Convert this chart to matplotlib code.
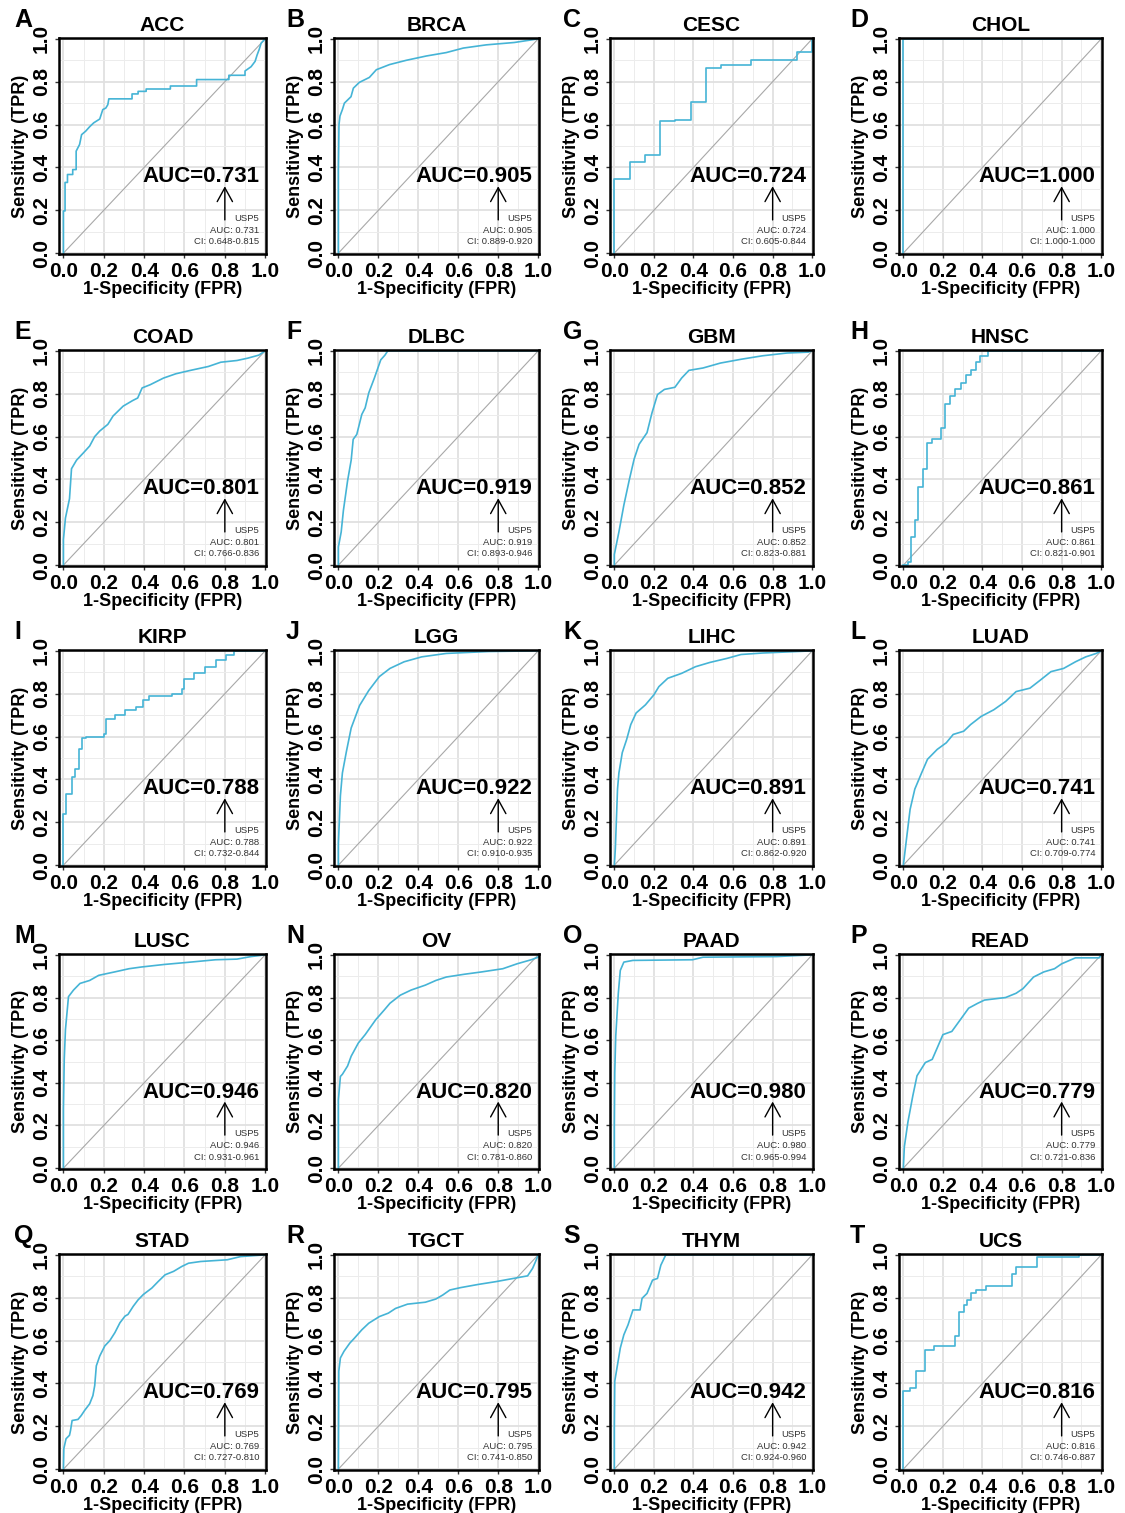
import numpy as np
import matplotlib
matplotlib.use('Agg')
import matplotlib.pyplot as plt
from matplotlib.ticker import MultipleLocator

plt.rcParams['font.family'] = ['Liberation Sans', 'DejaVu Sans']
plt.rcParams['font.weight'] = 'bold'

# ---------------- data ----------------
letters = list("ABCDEFGHIJKLMNOPQRST")
cancers = ['ACC', 'BRCA', 'CESC', 'CHOL', 'COAD', 'DLBC', 'GBM', 'HNSC',
           'KIRP', 'LGG', 'LIHC', 'LUAD', 'LUSC', 'OV', 'PAAD', 'READ',
           'STAD', 'TGCT', 'THYM', 'UCS']
gene = 'USP5'
auc = [0.731, 0.905, 0.724, 1.000, 0.801, 0.919, 0.852, 0.861, 0.788, 0.922,
       0.891, 0.741, 0.946, 0.820, 0.980, 0.779, 0.769, 0.795, 0.942, 0.816]
ci_low = [0.648, 0.889, 0.605, 1.000, 0.766, 0.893, 0.823, 0.821, 0.732, 0.910,
          0.862, 0.709, 0.931, 0.781, 0.965, 0.721, 0.727, 0.741, 0.924, 0.746]
ci_high = [0.815, 0.920, 0.844, 1.000, 0.836, 0.946, 0.881, 0.901, 0.844, 0.935,
           0.920, 0.774, 0.961, 0.860, 0.994, 0.836, 0.810, 0.850, 0.960, 0.887]

ACC_fpr = [0, 0, 0.008, 0.008, 0.02, 0.02, 0.046, 0.046, 0.063, 0.063, 0.08, 0.09, 0.11, 0.13,
           0.15, 0.18, 0.195, 0.21, 0.22, 0.225, 0.34, 0.34, 0.37, 0.37, 0.41, 0.41, 0.53, 0.53,
           0.66, 0.66, 0.82, 0.82, 0.9, 0.9, 0.93, 0.95, 0.96, 0.97, 0.98, 1.0]
ACC_tpr = [0, 0.197, 0.197, 0.33, 0.33, 0.367, 0.367, 0.39, 0.39, 0.476, 0.507, 0.553, 0.569, 0.59,
           0.608, 0.626, 0.67, 0.677, 0.693, 0.72, 0.72, 0.743, 0.743, 0.755, 0.755, 0.766, 0.766, 0.78,
           0.78, 0.81, 0.81, 0.83, 0.83, 0.85, 0.87, 0.895, 0.925, 0.95, 0.98, 1.0]
BRCA_fpr = [0, 0, 0.003, 0.008, 0.02, 0.03, 0.063, 0.075, 0.105, 0.155, 0.19, 0.256, 0.34, 0.44,
            0.54, 0.625, 0.74, 0.88, 1.0]
BRCA_tpr = [0, 0.39, 0.6, 0.64, 0.67, 0.70, 0.73, 0.77, 0.797, 0.82, 0.856, 0.88, 0.9, 0.92,
            0.936, 0.957, 0.972, 0.983, 1.0]
CESC_fpr = [0, 0, 0.077, 0.077, 0.154, 0.154, 0.231, 0.231, 0.308, 0.308, 0.385, 0.385, 0.462, 0.462,
            0.538, 0.538, 0.615, 0.615, 0.692, 0.692, 0.846, 0.846, 0.923, 0.923, 1.0, 1.0]
CESC_tpr = [0, 0.347, 0.347, 0.425, 0.425, 0.46, 0.46, 0.615, 0.615, 0.62, 0.62, 0.704, 0.704, 0.864,
            0.864, 0.876, 0.876, 0.88, 0.88, 0.9, 0.9, 0.903, 0.903, 0.94, 0.94, 1.0]
CHOL_fpr = [0, 0, 1.0]
CHOL_tpr = [0, 1.0, 1.0]
COAD_fpr = [0, 0.0, 0.01, 0.03, 0.04, 0.065, 0.10, 0.13, 0.155, 0.18, 0.22, 0.246, 0.296, 0.343,
            0.368, 0.39, 0.43, 0.496, 0.557, 0.63, 0.718, 0.78, 0.86, 0.914, 0.968, 1.0]
COAD_tpr = [0, 0.12, 0.22, 0.31, 0.45, 0.49, 0.525, 0.556, 0.60, 0.626, 0.657, 0.696, 0.742, 0.768,
            0.78, 0.827, 0.842, 0.873, 0.893, 0.909, 0.927, 0.947, 0.955, 0.966, 0.98, 1.0]
DLBC_fpr = [0, 0, 0.014, 0.025, 0.046, 0.064, 0.074, 0.092, 0.117, 0.134, 0.152, 0.18, 0.212,
            0.233, 0.247, 1.0]
DLBC_tpr = [0, 0.085, 0.155, 0.255, 0.394, 0.49, 0.587, 0.61, 0.703, 0.734, 0.804, 0.873, 0.958,
            0.98, 1.0, 1.0]
GBM_fpr = [0, 0.0, 0.023, 0.048, 0.076, 0.1, 0.125, 0.165, 0.19, 0.218, 0.253, 0.306, 0.34, 0.377,
           0.448, 0.536, 0.642, 0.749, 0.873, 0.98, 1.0]
GBM_tpr = [0, 0.05, 0.155, 0.28, 0.40, 0.495, 0.564, 0.618, 0.71, 0.796, 0.82, 0.83, 0.873, 0.909,
           0.92, 0.943, 0.961, 0.977, 0.99, 0.994, 1.0]
HNSC_fpr = [0, 0.012, 0.023, 0.04, 0.058, 0.076, 0.097, 0.12, 0.146, 0.19, 0.21, 0.235, 0.26, 0.29,
            0.315, 0.34, 0.365, 0.386, 0.43, 1.0]
HNSC_tpr = [0, 0, 0.015, 0.13, 0.21, 0.363, 0.448, 0.572, 0.59, 0.641, 0.75, 0.788, 0.82, 0.85,
            0.889, 0.912, 0.95, 0.977, 1.0, 1.0]
KIRP_fpr = [0, 0, 0.014, 0.04, 0.057, 0.075, 0.093, 0.11, 0.2, 0.21, 0.254, 0.307, 0.36, 0.396,
            0.425, 0.54, 0.59, 0.6, 0.646, 0.7, 0.754, 0.807, 0.843, 1.0]
KIRP_tpr = [0, 0.24, 0.33, 0.41, 0.45, 0.54, 0.594, 0.6, 0.61, 0.68, 0.70, 0.725, 0.74, 0.77,
            0.79, 0.80, 0.82, 0.867, 0.895, 0.926, 0.957, 0.98, 1.0, 1.0]
LGG_fpr = [0, 0, 0.01, 0.02, 0.04, 0.064, 0.106, 0.152, 0.205, 0.258, 0.329, 0.417, 0.54, 0.753, 1.0]
LGG_tpr = [0, 0.1, 0.324, 0.43, 0.53, 0.64, 0.745, 0.815, 0.88, 0.918, 0.949, 0.972, 0.988, 0.997, 1.0]
LIHC_fpr = [0, 0.005, 0.016, 0.023, 0.04, 0.062, 0.083, 0.11, 0.157, 0.2, 0.225, 0.27, 0.34, 0.41,
            0.483, 0.57, 0.64, 0.75, 1.0]
LIHC_tpr = [0, 0.077, 0.355, 0.43, 0.525, 0.586, 0.656, 0.71, 0.748, 0.795, 0.833, 0.872, 0.895,
            0.926, 0.946, 0.965, 0.983, 0.99, 1.0]
LUAD_fpr = [0, 0.016, 0.034, 0.058, 0.093, 0.122, 0.171, 0.217, 0.252, 0.305, 0.34, 0.393, 0.457,
            0.517, 0.57, 0.64, 0.693, 0.746, 0.81, 0.87, 0.922, 0.975, 1.0]
LUAD_tpr = [0, 0.123, 0.26, 0.355, 0.432, 0.494, 0.54, 0.571, 0.61, 0.625, 0.656, 0.694, 0.725,
            0.764, 0.81, 0.826, 0.864, 0.903, 0.918, 0.949, 0.972, 0.988, 1.0]
LUSC_fpr = [0, 0, 0.004, 0.01, 0.025, 0.05, 0.082, 0.13, 0.175, 0.254, 0.325, 0.386, 0.5, 0.63,
            0.754, 0.86, 0.93, 1.0]
LUSC_tpr = [0, 0.278, 0.51, 0.65, 0.804, 0.835, 0.866, 0.88, 0.904, 0.92, 0.935, 0.943, 0.955,
            0.966, 0.977, 0.98, 0.992, 1.0]
OV_fpr = [0, 0, 0.01, 0.02, 0.046, 0.064, 0.1, 0.134, 0.187, 0.23, 0.258, 0.31, 0.364, 0.435,
          0.488, 0.54, 0.63, 0.717, 0.823, 0.894, 0.965, 1.0, 1.0]
OV_tpr = [0, 0.32, 0.43, 0.44, 0.479, 0.525, 0.587, 0.626, 0.696, 0.742, 0.773, 0.811, 0.835,
          0.858, 0.88, 0.896, 0.909, 0.92, 0.935, 0.958, 0.977, 0.989, 1.0]
PAAD_fpr = [0, 0, 0.002, 0.007, 0.02, 0.03, 0.048, 0.094, 0.395, 0.448, 0.82, 1.0]
PAAD_tpr = [0, 0.2, 0.448, 0.618, 0.82, 0.927, 0.966, 0.974, 0.977, 0.989, 0.992, 1.0]
READ_fpr = [0, 0.005, 0.023, 0.048, 0.069, 0.111, 0.146, 0.175, 0.2, 0.245, 0.288, 0.33, 0.376,
            0.41, 0.517, 0.57, 0.605, 0.658, 0.71, 0.764, 0.8, 0.87, 0.99, 1.0]
READ_tpr = [0, 0.1, 0.216, 0.34, 0.433, 0.495, 0.51, 0.572, 0.626, 0.641, 0.696, 0.75, 0.773,
            0.788, 0.8, 0.82, 0.842, 0.896, 0.92, 0.935, 0.958, 0.986, 0.986, 1.0]
STAD_fpr = [0, 0.002, 0.013, 0.03, 0.035, 0.043, 0.072, 0.088, 0.105, 0.13, 0.146, 0.155, 0.163,
            0.18, 0.205, 0.23, 0.255, 0.28, 0.305, 0.32, 0.346, 0.37, 0.396, 0.438, 0.47, 0.504,
            0.546, 0.587, 0.62, 0.68, 0.812, 0.878, 1.0]
STAD_tpr = [0, 0.096, 0.142, 0.158, 0.18, 0.227, 0.232, 0.25, 0.274, 0.305, 0.343, 0.39, 0.482,
            0.528, 0.575, 0.6, 0.637, 0.683, 0.714, 0.722, 0.76, 0.79, 0.815, 0.845, 0.876, 0.907,
            0.923, 0.946, 0.961, 0.969, 0.977, 0.992, 1.0]
TGCT_fpr = [0, 0.002, 0.01, 0.028, 0.057, 0.08, 0.117, 0.152, 0.205, 0.25, 0.286, 0.346, 0.435,
            0.488, 0.523, 0.558, 0.611, 0.7, 0.788, 0.876, 0.947, 0.972, 0.986, 1.0]
TGCT_tpr = [0, 0.457, 0.519, 0.55, 0.588, 0.611, 0.65, 0.681, 0.712, 0.728, 0.75, 0.77, 0.779,
            0.794, 0.813, 0.836, 0.847, 0.862, 0.875, 0.89, 0.902, 0.937, 0.967, 1.0]
THYM_fpr = [0, 0, 0.002, 0.03, 0.048, 0.069, 0.094, 0.13, 0.14, 0.165, 0.193, 0.218, 0.235, 0.26, 1.0]
THYM_tpr = [0, 0.193, 0.41, 0.565, 0.627, 0.673, 0.743, 0.743, 0.797, 0.82, 0.882, 0.89, 0.952, 1.0, 1.0]
UCS_fpr = [0, 0, 0.034, 0.065, 0.11, 0.153, 0.26, 0.28, 0.305, 0.323, 0.34, 0.365, 0.42, 0.535,
           0.55, 0.57, 0.676, 0.888, 1.0]
UCS_tpr = [0, 0.364, 0.38, 0.457, 0.557, 0.576, 0.62, 0.735, 0.766, 0.79, 0.82, 0.836, 0.856,
           0.856, 0.913, 0.944, 0.992, 1.0, 1.0]

fpr_list = [ACC_fpr, BRCA_fpr, CESC_fpr, CHOL_fpr, COAD_fpr, DLBC_fpr, GBM_fpr, HNSC_fpr,
            KIRP_fpr, LGG_fpr, LIHC_fpr, LUAD_fpr, LUSC_fpr, OV_fpr, PAAD_fpr, READ_fpr,
            STAD_fpr, TGCT_fpr, THYM_fpr, UCS_fpr]
tpr_list = [ACC_tpr, BRCA_tpr, CESC_tpr, CHOL_tpr, COAD_tpr, DLBC_tpr, GBM_tpr, HNSC_tpr,
            KIRP_tpr, LGG_tpr, LIHC_tpr, LUAD_tpr, LUSC_tpr, OV_tpr, PAAD_tpr, READ_tpr,
            STAD_tpr, TGCT_tpr, THYM_tpr, UCS_tpr]
step_panels = {'HNSC', 'KIRP', 'UCS'}

# ---------------- layout ----------------
W, H = 1125, 1513
fig = plt.figure(figsize=(W / 100, H / 100), dpi=100)
col_lr = [(59, 266), (334, 539), (610, 813), (899, 1102)]
row_tb = [(38, 254), (350, 566), (650, 866), (954, 1169), (1254, 1470)]
letter_x = [14, 286, 563, 850]
curve_color = '#45B4D6'
ticks = np.arange(0, 1.01, 0.2)

for i, name in enumerate(cancers):
    r, k = divmod(i, 4)
    l, rgt = col_lr[k]
    t, b = row_tb[r]
    ax = fig.add_axes([l / W, 1 - b / H, (rgt - l) / W, (b - t) / H])
    ax.set_xlim(-0.022, 1.004)
    ax.set_ylim(-0.004, 1.004)
    ax.set_xticks(ticks)
    ax.set_yticks(ticks)
    ax.set_xticklabels([f'{v:.1f}' for v in ticks])
    ax.set_yticklabels([f'{v:.1f}' for v in ticks])
    ax.xaxis.set_minor_locator(MultipleLocator(0.1))
    ax.yaxis.set_minor_locator(MultipleLocator(0.1))
    ax.grid(which='major', color='#E0E0E0', lw=1.3, zorder=0)
    ax.grid(which='minor', color='#ECECEC', lw=0.7, zorder=0)
    ax.set_axisbelow(True)
    ax.tick_params(which='minor', length=0)
    ax.tick_params(which='major', length=3, width=1, pad=3, labelsize=15, color='#333333')
    for lab in ax.get_yticklabels():
        lab.set_rotation(90)
        lab.set_va('center')
    for sp in ax.spines.values():
        sp.set_linewidth(1.8)
        sp.set_color('black')
        sp.set_zorder(5)

    ax.plot([0, 1], [0, 1], color='#A8A8A8', lw=0.8, zorder=2)
    ds = 'steps-post' if name in step_panels else 'default'
    ax.plot(fpr_list[i], tpr_list[i], color=curve_color, lw=1.2, drawstyle=ds, zorder=3)

    ax.set_title(name, fontsize=15, fontweight='bold', pad=5)
    ax.set_xlabel('1-Specificity (FPR)', fontsize=13, fontweight='bold', labelpad=0)
    ax.set_ylabel('Sensitivity (TPR)', fontsize=13, fontweight='bold', labelpad=2)

    ax.text(0.97, 0.33, f'AUC={auc[i]:.3f}', ha='right', va='baseline',
            fontsize=16, fontweight='bold', zorder=6)
    ax.annotate('', xy=(0.8, 0.312), xytext=(0.8, 0.155),
                arrowprops=dict(arrowstyle='->,head_length=1.0,head_width=0.55',
                                lw=1, color='black', mutation_scale=10,
                                shrinkA=0, shrinkB=0), zorder=6)
    small = dict(ha='right', va='center', fontsize=6.8, color='#333333', fontweight='normal', zorder=6)
    ax.text(0.97, 0.162, gene, **small)
    ax.text(0.97, 0.107, f'AUC: {auc[i]:.3f}', **small)
    ax.text(0.97, 0.052, f'CI: {ci_low[i]:.3f}-{ci_high[i]:.3f}', **small)

    fig.text(letter_x[k] / W, 1 - (t - 11) / H, letters[i], fontsize=18,
             fontweight='bold', ha='left', va='baseline')

fig.savefig('out.png', dpi=100)
